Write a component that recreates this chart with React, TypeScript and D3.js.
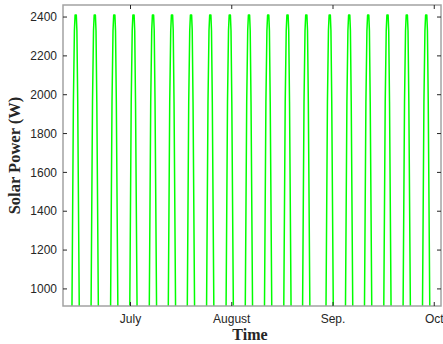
import { useEffect, useRef } from 'react';
import * as d3 from 'd3';

// x is in days from the left edge of the plotted window
const peakDays = [3.76, 9.42, 15.2, 20.89, 26.67, 32.3, 37.93, 43.64, 49.42, 55.11, 60.8, 66.52, 72.09, 79.03, 84.8, 90.43, 96.15, 101.87, 107.62];
// one daily hump (offset in days, power in W)
const humpOffsets = [-1.5, -1.1, -0.68, -0.38, -0.18, 0.18, 0.36, 0.6, 1.05, 1.45];
const humpValues = [0, 912, 1963, 2330, 2410, 2410, 2330, 1963, 912, 0];
const xTickDays = [20, 50, 80, 110];
const xTickLabels = ['July', 'August', 'Sep.', 'Oct'];
const yTicks = [1000, 1200, 1400, 1600, 1800, 2000, 2200, 2400];

const W = 443, H = 344;
const M = { left: 63, right: 2, top: 5, bottom: 38 };

export default function App() {
  const ref = useRef<SVGSVGElement | null>(null);

  useEffect(() => {
    const svg = d3.select(ref.current!);
    svg.selectAll('*').remove();
    const x = d3.scaleLinear().domain([0, 112]).range([M.left, W - M.right]);
    const y = d3.scaleLinear().domain([912, 2462]).range([H - M.bottom, M.top]);
    const [x0, x1] = x.range();
    const [y0, y1] = y.range();

    const pts: [number, number][] = [[0, 0]];
    peakDays.forEach((p) => humpOffsets.forEach((o, i) => pts.push([p + o, humpValues[i]])));
    pts.push([112, 0]);

    svg.append('rect').attr('width', W).attr('height', H).attr('fill', '#fff');
    svg.append('clipPath').attr('id', 'plot-clip').append('rect')
      .attr('x', x0).attr('y', y1).attr('width', x1 - x0).attr('height', y0 - y1);

    const line = d3.line<[number, number]>().x((d) => x(d[0])).y((d) => y(d[1]));
    svg.append('path').datum(pts).attr('clip-path', 'url(#plot-clip)')
      .attr('d', line).attr('fill', 'none').attr('stroke', '#00ff00').attr('stroke-width', 1.5)
      .attr('stroke-linejoin', 'round');

    // box
    svg.append('rect').attr('x', x0).attr('y', y1).attr('width', x1 - x0).attr('height', y0 - y1)
      .attr('fill', 'none').attr('stroke', '#a3a3a3').attr('stroke-width', 1.5);

    const tk = svg.append('g').attr('stroke', '#262626').attr('stroke-width', 1);
    yTicks.forEach((v) => {
      tk.append('line').attr('x1', x0).attr('x2', x0 + 4).attr('y1', y(v)).attr('y2', y(v));
      tk.append('line').attr('x1', x1 - 4).attr('x2', x1).attr('y1', y(v)).attr('y2', y(v));
    });
    xTickDays.forEach((d) => {
      tk.append('line').attr('x1', x(d)).attr('x2', x(d)).attr('y1', y0).attr('y2', y0 - 4);
      tk.append('line').attr('x1', x(d)).attr('x2', x(d)).attr('y1', y1).attr('y2', y1 + 4);
    });

    const lab = svg.append('g').attr('font-family', 'Liberation Sans, Arial, sans-serif').attr('font-size', 12).attr('fill', '#262626');
    yTicks.forEach((v) => {
      lab.append('text').attr('x', x0 - 6).attr('y', y(v)).attr('dy', '0.35em').attr('text-anchor', 'end').text(v);
    });
    xTickDays.forEach((d, i) => {
      lab.append('text').attr('x', x(d)).attr('y', 322.5).attr('text-anchor', 'middle').text(xTickLabels[i]);
    });

    svg.append('text').attr('x', (x0 + x1) / 2 - 2).attr('y', 340).attr('text-anchor', 'middle')
      .attr('font-family', 'Liberation Serif, Times New Roman, serif').attr('font-weight', 'bold').attr('font-size', 16)
      .attr('fill', '#262626').text('Time');
    svg.append('text').attr('transform', `translate(20,${(y0 + y1) / 2}) rotate(-90)`).attr('text-anchor', 'middle')
      .attr('font-family', 'Liberation Serif, Times New Roman, serif').attr('font-weight', 'bold').attr('font-size', 16.5)
      .attr('fill', '#262626').text('Solar Power (W)');
  }, []);

  return <svg ref={ref} width={W} height={H} style={{ position: 'absolute', left: 0, top: 0 }} />;
}
